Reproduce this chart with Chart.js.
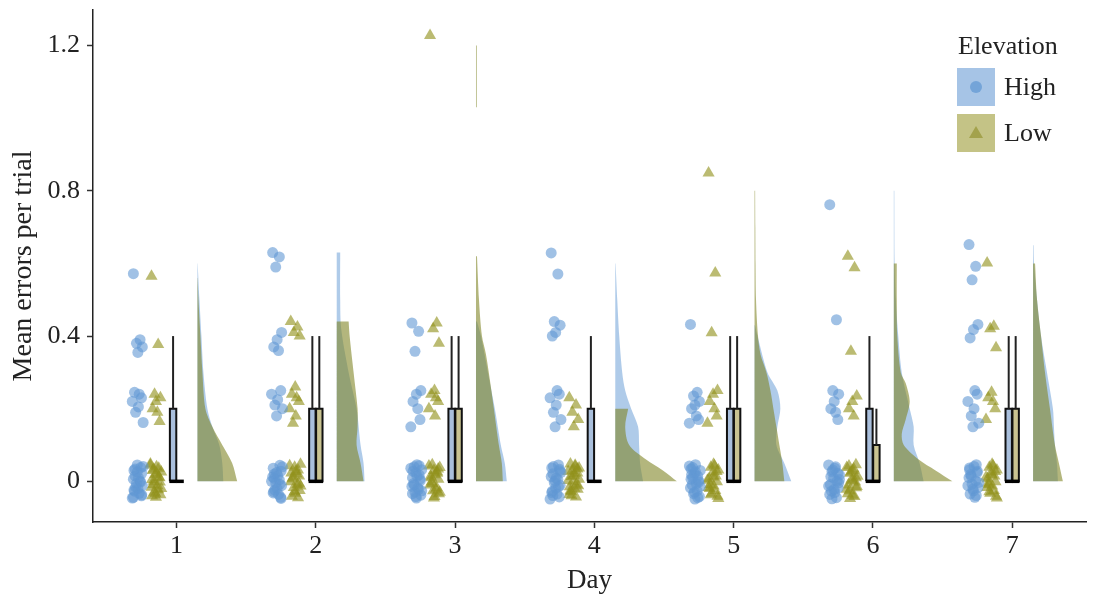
<!DOCTYPE html>
<html>
<head>
<meta charset="utf-8">
<title>Mean errors per trial by day</title>
<script src="https://cdn.jsdelivr.net/npm/chart.js@4.4.0/dist/chart.umd.min.js"></script>
<style>
  html, body { margin: 0; padding: 0; background: #fff; }
  #wrap { width: 1093px; height: 598px; }
</style>
</head>
<body>
<div id="wrap"><canvas id="rain" width="1093" height="598"></canvas></div>
<script>
// ---- data ----
const days = [1, 2, 3, 4, 5, 6, 7];
const yTicks = [0, 0.4, 0.8, 1.2];
const groups = ['High', 'Low'];

// individual animals, one list per day
const highPoints = [
  [0.572, 0.39, 0.38, 0.37, 0.355, 0.245, 0.24, 0.23, 0.22, 0.205, 0.19, 0.162,
   0.045, 0.038, 0.03, 0.022, 0.015, 0.006, 0.0, -0.006, -0.012, -0.02, -0.027, -0.033, -0.04, -0.046, 0.01, -0.016,
   0.041, 0.026, -0.002, -0.024, -0.037, 0.034, -0.044],
  [0.63, 0.618, 0.59, 0.41, 0.39, 0.37, 0.36, 0.25, 0.24, 0.225, 0.21, 0.2, 0.18,
   0.044, 0.036, 0.028, 0.02, 0.012, 0.004, -0.004, -0.012, -0.02, -0.028, -0.036, -0.044, 0.0, 0.016, -0.024,
   0.04, 0.024, -0.008, -0.032, -0.047, 0.008],
  [0.436, 0.413, 0.358, 0.25, 0.24, 0.22, 0.2, 0.17, 0.15,
   0.046, 0.04, 0.032, 0.024, 0.018, 0.01, 0.002, -0.006, -0.014, -0.022, -0.03, -0.038, -0.046, 0.028, -0.018, 0.006,
   0.036, 0.014, -0.01, -0.026, -0.042, 0.043, -0.034],
  [0.629, 0.571, 0.44, 0.43, 0.41, 0.4, 0.25, 0.24, 0.23, 0.21, 0.19, 0.17, 0.15,
   0.045, 0.037, 0.029, 0.021, 0.013, 0.005, -0.003, -0.011, -0.019, -0.027, -0.035, -0.043, -0.049, 0.009,
   0.041, 0.025, 0.001, -0.015, -0.031, 0.033, -0.039],
  [0.432, 0.245, 0.235, 0.22, 0.21, 0.2, 0.18, 0.17, 0.16,
   0.046, 0.038, 0.03, 0.022, 0.014, 0.006, -0.002, -0.01, -0.018, -0.026, -0.034, -0.042, -0.049, 0.018, -0.006, 0.002,
   0.042, 0.026, 0.01, -0.014, -0.03, -0.045, 0.034],
  [0.762, 0.445, 0.25, 0.24, 0.22, 0.2, 0.19, 0.17,
   0.045, 0.036, 0.027, 0.018, 0.009, 0.0, -0.009, -0.018, -0.027, -0.036, -0.045, 0.031, -0.004, -0.022, 0.013,
   0.04, 0.022, -0.013, -0.031, -0.048, 0.005],
  [0.652, 0.592, 0.555, 0.432, 0.418, 0.395, 0.25, 0.24, 0.22, 0.2, 0.18, 0.16, 0.15,
   0.046, 0.037, 0.028, 0.019, 0.01, 0.001, -0.008, -0.017, -0.026, -0.035, -0.044, 0.024, -0.012,
   0.041, 0.014, -0.003, -0.021, -0.039, 0.032]
];
const lowPoints = [
  [0.565, 0.377, 0.24, 0.23, 0.22, 0.2, 0.19, 0.165,
   0.048, 0.04, 0.033, 0.026, 0.019, 0.012, 0.005, -0.002, -0.009, -0.016, -0.023, -0.03, -0.037, -0.044, 0.03, -0.012, 0.01,
   0.044, 0.022, 0.0, -0.02, -0.034, 0.036, -0.04],
  [0.44, 0.425, 0.41, 0.4, 0.26, 0.24, 0.23, 0.22, 0.2, 0.18, 0.16,
   0.047, 0.039, 0.031, 0.023, 0.015, 0.007, -0.001, -0.009, -0.017, -0.025, -0.033, -0.041, 0.02, -0.005,
   0.043, 0.027, 0.011, -0.013, -0.029, -0.045],
  [1.228, 0.436, 0.42, 0.38, 0.25, 0.24, 0.23, 0.22, 0.2, 0.18,
   0.046, 0.038, 0.03, 0.022, 0.014, 0.006, -0.002, -0.01, -0.018, -0.026, -0.034, -0.042, 0.01, -0.022, 0.034,
   0.042, 0.018, -0.006, -0.03, -0.046, 0.026],
  [0.23, 0.21, 0.19, 0.17, 0.15,
   0.048, 0.041, 0.034, 0.027, 0.02, 0.013, 0.006, -0.001, -0.008, -0.015, -0.022, -0.029, -0.036, -0.043, 0.03, -0.012, 0.016, -0.026,
   0.044, 0.023, 0.002, -0.019, -0.04, 0.037],
  [0.849, 0.574, 0.409, 0.25, 0.24, 0.22, 0.2, 0.18, 0.16,
   0.047, 0.039, 0.031, 0.023, 0.015, 0.007, -0.001, -0.009, -0.017, -0.025, -0.033, -0.041, 0.012, -0.02,
   0.043, 0.027, 0.003, -0.013, -0.037, -0.047],
  [0.62, 0.588, 0.358, 0.235, 0.22, 0.2, 0.18,
   0.046, 0.038, 0.03, 0.022, 0.014, 0.006, -0.002, -0.01, -0.018, -0.026, -0.034, -0.042, 0.026, -0.014, 0.002,
   0.042, 0.034, 0.01, -0.022, -0.038, -0.047],
  [0.601, 0.427, 0.42, 0.368, 0.245, 0.23, 0.22, 0.2, 0.17,
   0.047, 0.039, 0.031, 0.023, 0.015, 0.007, -0.001, -0.009, -0.017, -0.025, -0.033, -0.041, 0.019, -0.005,
   0.043, 0.027, 0.011, -0.013, -0.029, -0.046]
];

// box stats per day: [q1, median, q3, upper whisker]
const highBox = [[0, 0, 0.2, 0.4], [0, 0, 0.2, 0.4], [0, 0, 0.2, 0.4], [0, 0, 0.2, 0.4],
                 [0, 0, 0.2, 0.4], [0, 0, 0.2, 0.4], [0, 0, 0.2, 0.4]];
const lowBox  = [[0, 0, 0, 0], [0, 0, 0.2, 0.4], [0, 0, 0.2, 0.4], [0, 0, 0, 0],
                 [0, 0, 0.2, 0.4], [0, 0, 0.1, 0.2], [0, 0, 0.2, 0.4]];

// kernel density profiles: [errors, density]
const highDensity = [
  [[0, 2.6], [0.05, 2.5], [0.1, 2.2], [0.15, 1.5], [0.2, 1.0], [0.3, 0.6], [0.4, 0.4], [0.5, 0.2], [0.6, 0.02]],
  [[0, 2.8], [0.05, 2.7], [0.1, 2.4], [0.2, 2.0], [0.3, 1.2], [0.42, 0.45], [0.5, 0.35], [0.63, 0.35]],
  [[0, 3.1], [0.05, 2.9], [0.1, 2.5], [0.2, 1.9], [0.3, 1.2], [0.4, 0.5], [0.44, 0.1]],
  [[0, 2.8], [0.05, 2.5], [0.1, 2.4], [0.15, 2.3], [0.2, 1.6], [0.25, 1.0], [0.3, 0.7], [0.4, 0.4], [0.5, 0.2], [0.6, 0.03]],
  [[0, 3.7], [0.05, 3.0], [0.1, 2.2], [0.15, 2.3], [0.2, 2.6], [0.25, 2.3], [0.3, 1.3], [0.4, 0.3], [0.43, 0.05]],
  [[0, 3.0], [0.05, 2.6], [0.1, 2.0], [0.15, 2.0], [0.2, 1.6], [0.3, 0.8], [0.4, 0.45], [0.5, 0.2], [0.6, 0.08], [0.8, 0.05]],
  [[0, 2.5], [0.05, 2.4], [0.1, 2.2], [0.15, 2.1], [0.2, 2.0], [0.3, 1.4], [0.4, 0.8], [0.5, 0.4], [0.6, 0.1], [0.65, 0.05]]
];
const lowDensity = [
  [[0, 4.0], [0.05, 3.5], [0.1, 2.5], [0.15, 1.5], [0.2, 0.8], [0.3, 0.5], [0.4, 0.3], [0.5, 0.1], [0.56, 0.02]],
  [[0, 2.7], [0.05, 2.4], [0.1, 2.0], [0.15, 2.1], [0.2, 2.1], [0.3, 1.7], [0.4, 1.3], [0.44, 1.2]],
  [[0, 2.7], [0.05, 2.6], [0.1, 2.3], [0.2, 1.8], [0.26, 1.5], [0.35, 1.0], [0.4, 0.6], [0.5, 0.3], [0.62, 0.1],
   [0.66, 0], [1.0, 0], [1.03, 0.08], [1.2, 0.08]],
  [[0, 6.2], [0.03, 4.8], [0.06, 3.1], [0.1, 1.4], [0.15, 1.0], [0.2, 1.3]],
  [[0, 3.0], [0.05, 2.8], [0.1, 2.5], [0.15, 2.2], [0.2, 1.9], [0.25, 1.6], [0.3, 1.2], [0.35, 0.6], [0.4, 0.35],
   [0.5, 0.15], [0.6, 0.1], [0.7, 0.08], [0.8, 0.06]],
  [[0, 5.9], [0.03, 4.2], [0.06, 2.5], [0.1, 1.0], [0.13, 0.8], [0.17, 1.2], [0.22, 1.6], [0.27, 1.2], [0.3, 0.7],
   [0.4, 0.35], [0.5, 0.3], [0.6, 0.3]],
  [[0, 3.0], [0.05, 2.6], [0.1, 2.2], [0.2, 1.7], [0.3, 1.2], [0.4, 0.8], [0.5, 0.4], [0.6, 0.2]]
];

// ---- look ----
const SERIF = "'Liberation Serif', 'Times New Roman', serif";
const INK = '#222';
const HIGH_PT = 'rgba(96,152,212,0.6)';
const LOW_PT = 'rgba(145,145,28,0.62)';
const HIGH_CLOUD = 'rgba(110,160,215,0.55)';
const LOW_CLOUD = 'rgba(128,134,38,0.6)';
const HIGH_BOX = '#a9bfdc';
const LOW_BOX = '#c9c391';
const LEGEND_FILL = ['#a6c4e6', '#c4c386'];
const LEGEND_MARK = ['#74a4d8', '#a3a24c'];

const DENS_SCALE = 0.0713;   // day units per density unit
const CLOUD_GAP = 0.15;      // density baseline right of the tick
const BOX_W = 0.046;
const jitter = [-0.03, 0.018, -0.008, 0.034, 0.002, -0.022, 0.012, 0.028, -0.038, 0.006, -0.014, 0.04, -0.002, 0.022, -0.026, 0.03, -0.018];

function cloudPoints(vals, day, shift) {
  return vals.map((v, i) => ({ x: day + shift + jitter[i % jitter.length], y: v }));
}

// a profile with a run of zero density is drawn as separate pieces
function pieces(prof) {
  const out = [];
  let run = [];
  prof.forEach(p => {
    if (p[1] > 0) run.push(p);
    else if (run.length) { out.push(run); run = []; }
  });
  if (run.length) out.push(run);
  return out;
}

// closed outline: density edge bottom to top, then back down the baseline.
// corners are doubled so the spline keeps them sharp.
function halfViolin(prof, day) {
  const x0 = day + CLOUD_GAP;
  const top = prof[prof.length - 1][0], bot = prof[0][0];
  const edge = prof.map(([y, d]) => ({ x: x0 + d * DENS_SCALE, y: y }));
  const first = edge[0], last = edge[edge.length - 1];
  return [{ ...first }, ...edge, { ...last },
          { x: x0, y: top }, { x: x0, y: top },
          { x: x0, y: bot }, { x: x0, y: bot },
          { ...first }, { ...first }];
}

function path(data, color, width, order) {
  return { data, showLine: true, borderColor: color, borderWidth: width, pointRadius: 0,
           fill: false, tension: 0, borderCapStyle: 'butt', order };
}

function boxShapes(stats, cx, fill) {
  const [q1, med, q3, hi] = stats;
  const l = cx - BOX_W / 2, r = cx + BOX_W / 2;
  const out = [];
  if (hi > q3) out.push(path([{ x: cx, y: q3 }, { x: cx, y: hi }], INK, 2, 2));
  if (q3 > q1) {
    out.push({
      data: [{ x: l, y: q1 }, { x: r, y: q1 }, { x: r, y: q3 }, { x: l, y: q3 }, { x: l, y: q1 }],
      showLine: true, fill: 'shape', backgroundColor: fill, borderColor: '#111', borderWidth: 2,
      borderJoinStyle: 'miter', pointRadius: 0, tension: 0, order: 2
    });
  }
  out.push(path([{ x: l - 0.004, y: med }, { x: r + 0.004, y: med }], '#000', 3.5, 1.5));
  return out;
}

function clouds(prof, day, color, order) {
  return pieces(prof).map(run => ({
    data: halfViolin(run, day), showLine: true, fill: 'shape', backgroundColor: color,
    borderWidth: 0, pointRadius: 0, tension: run.length > 2 ? 0.3 : 0, order
  }));
}

const datasets = [];
days.forEach((day, i) => {
  datasets.push(...clouds(highDensity[i], day, HIGH_CLOUD, 5));
  datasets.push(...clouds(lowDensity[i], day, LOW_CLOUD, 4));
  datasets.push(...boxShapes(highBox[i], day - 0.025, HIGH_BOX));
  datasets.push(...boxShapes(lowBox[i], day + 0.025, LOW_BOX));
  datasets.push({ data: cloudPoints(highPoints[i], day, -0.28), pointStyle: 'circle', pointRadius: 5.5,
                  backgroundColor: HIGH_PT, borderWidth: 0, order: 0 });
  datasets.push({ data: cloudPoints(lowPoints[i], day, -0.15), pointStyle: 'triangle', pointRadius: 7,
                  backgroundColor: LOW_PT, borderWidth: 0, order: 0 });
});

// legend drawn on the canvas: boxes with the point marker inside
const elevationLegend = {
  id: 'elevationLegend',
  afterDraw(chart) {
    const ctx = chart.ctx;
    ctx.save();
    ctx.textBaseline = 'middle';
    ctx.font = '26px ' + SERIF;
    ctx.fillStyle = INK;
    ctx.fillText('Elevation', 958, 47);
    groups.forEach((g, i) => {
      const top = 68 + i * 46;
      const cx = 976, cy = top + 19;
      ctx.fillStyle = LEGEND_FILL[i];
      ctx.fillRect(957, top, 38, 38);
      ctx.fillStyle = LEGEND_MARK[i];
      ctx.beginPath();
      if (i === 0) {
        ctx.arc(cx, cy, 6, 0, Math.PI * 2);
      } else {
        ctx.moveTo(cx, cy - 7);
        ctx.lineTo(cx + 7, cy + 5);
        ctx.lineTo(cx - 7, cy + 5);
        ctx.closePath();
      }
      ctx.fill();
      ctx.fillStyle = INK;
      ctx.fillText(g, 1004, cy + 1);
    });
    ctx.restore();
  }
};

new Chart(document.getElementById('rain'), {
  type: 'scatter',
  data: { datasets },
  options: {
    responsive: false,
    animation: false,
    events: [],
    layout: { padding: { top: 10, left: 0, right: 0, bottom: 0 } },
    plugins: { legend: { display: false }, tooltip: { enabled: false } },
    scales: {
      x: {
        type: 'linear', min: 0.4, max: 7.53,
        afterBuildTicks: s => { s.ticks = days.map(v => ({ value: v })); },
        afterFit: s => { s.height = 76; s.paddingLeft = 0; s.paddingRight = 0; },
        grid: { drawOnChartArea: false, tickLength: 6, tickColor: '#333', tickWidth: 1.5 },
        border: { display: true, color: INK, width: 1.5 },
        ticks: { font: { family: SERIF, size: 26 }, color: INK, padding: 3 },
        title: { display: true, text: 'Day', color: INK, font: { family: SERIF, size: 27 },
                 padding: { top: 0, bottom: 1 } }
      },
      y: {
        type: 'linear', min: -0.112, max: 1.298,
        afterBuildTicks: s => { s.ticks = yTicks.map(v => ({ value: v })); },
        afterFit: s => { s.width = 93; s.paddingTop = 0; s.paddingBottom = 0; },
        grid: { drawOnChartArea: false, tickLength: 6, tickColor: '#333', tickWidth: 1.5 },
        border: { display: true, color: INK, width: 1.5 },
        ticks: { font: { family: SERIF, size: 26 }, color: INK, padding: 7,
                 callback: v => (v === 0 ? '0' : v.toFixed(1)) },
        title: { display: true, text: 'Mean errors per trial', color: INK,
                 font: { family: SERIF, size: 28 }, padding: { top: 7, bottom: 0 } }
      }
    }
  },
  plugins: [elevationLegend]
});
</script>
</body>
</html>
